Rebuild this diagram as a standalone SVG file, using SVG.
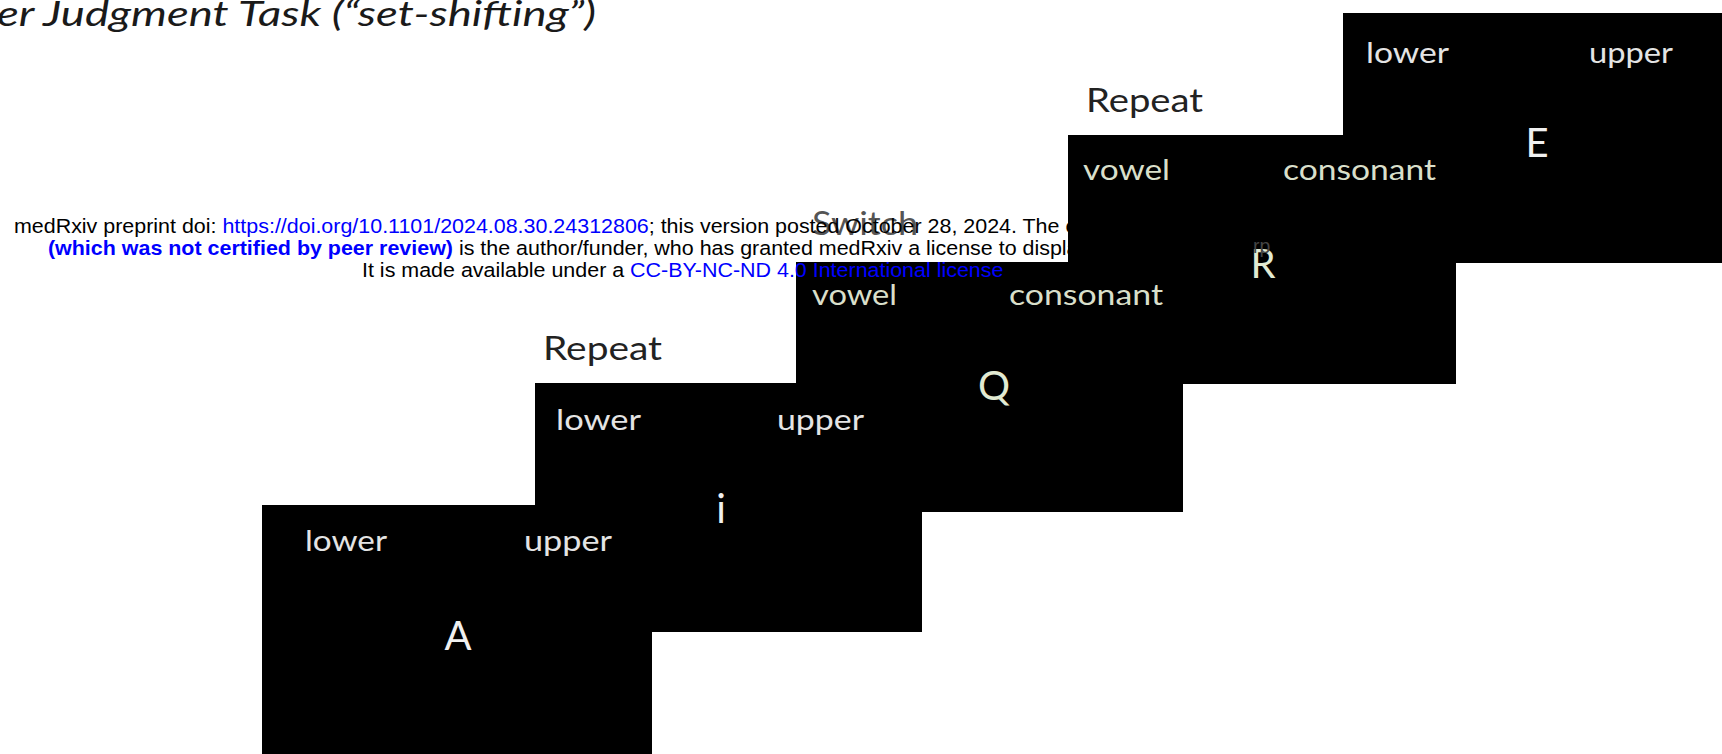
<svg xmlns="http://www.w3.org/2000/svg" width="1722" height="754" viewBox="0 0 1722 754">
<style>
.panel{fill:#000}
.lbl{font-family:Lato,"Liberation Sans",sans-serif;font-size:28px;fill:#e4e4e4}
.lblg{font-family:Lato,"Liberation Sans",sans-serif;font-size:28px;fill:#d9dfca}
.ltr{font-family:Lato,"Liberation Sans",sans-serif;font-size:40px;fill:#f0f0f0;text-anchor:middle}
.ltrg{font-family:Lato,"Liberation Sans",sans-serif;font-size:40px;fill:#e2ead2;text-anchor:middle}
.hdr{font-family:Lato,"Liberation Sans",sans-serif;font-size:32px;fill:#222}
.title{font-family:Lato,"Liberation Sans",sans-serif;font-size:34px;font-style:italic;fill:#1a1a1a}
.mx{font-family:"Liberation Sans",Arial,sans-serif;font-size:19.5px;fill:#000}
.blue{fill:#0000ff}
.b{font-weight:bold}
</style>
<rect x="0" y="0" width="1722" height="754" fill="#fff"/>
<g id="title">
<text class="title" x="-3" y="26" textLength="599" lengthAdjust="spacingAndGlyphs">er Judgment Task (“set-shifting”)</text>
</g>
<g id="connectors"></g>
<g id="switch-label">
<text class="hdr" x="812" y="235" textLength="106" lengthAdjust="spacingAndGlyphs" style="fill:#555">Switch</text>
</g>
<g id="notice-top" transform="matrix(1.1 0 0 1 0 0)">
<text class="mx" x="12.7" y="233">medRxiv preprint doi: <tspan class="blue">https://doi.org/10.1101/2024.08.30.24312806</tspan>; this version posted October 28, 2024. The co</text>
<text class="mx" x="43.6" y="255"><tspan class="blue b">(which was not certified by peer review)</tspan> is the author/funder, who has granted medRxiv a license to display</text>
</g>
<g id="panel5">
<rect class="panel" x="1343" y="13" width="400" height="250"/>
<text class="lbl" x="1366" y="63" textLength="83" lengthAdjust="spacingAndGlyphs">lower</text>
<text class="lbl" x="1589" y="63" textLength="84" lengthAdjust="spacingAndGlyphs">upper</text>
<text class="ltr" x="1537" y="157">E</text>
</g>
<g id="panel4">
<text class="hdr" x="1086" y="112" textLength="117" lengthAdjust="spacingAndGlyphs">Repeat</text>
<rect class="panel" x="1068" y="135" width="388" height="249"/>
<text class="lblg" x="1083" y="180" textLength="87" lengthAdjust="spacingAndGlyphs">vowel</text>
<text class="lblg" x="1283" y="180" textLength="153" lengthAdjust="spacingAndGlyphs">consonant</text>
<text class="ltrg" x="1263" y="278">R</text>
<text class="mx" x="1253" y="253" style="fill:#444">rp</text>
</g>
<g id="panel3">
<rect class="panel" x="796" y="262" width="387" height="250"/>
<text class="lblg" x="812" y="305" textLength="85" lengthAdjust="spacingAndGlyphs">vowel</text>
<text class="lblg" x="1009" y="305" textLength="154" lengthAdjust="spacingAndGlyphs">consonant</text>
<text class="ltrg" x="994" y="400">Q</text>
</g>
<g id="panel2">
<text class="hdr" x="543" y="360" textLength="119" lengthAdjust="spacingAndGlyphs">Repeat</text>
<rect class="panel" x="535" y="383" width="387" height="249"/>
<text class="lbl" x="556" y="430" textLength="85" lengthAdjust="spacingAndGlyphs">lower</text>
<text class="lbl" x="777" y="430" textLength="87" lengthAdjust="spacingAndGlyphs">upper</text>
<text class="ltr" x="721" y="523">i</text>
</g>
<g id="panel1">
<rect class="panel" x="262" y="505" width="390" height="260"/>
<text class="lbl" x="305" y="551" textLength="82" lengthAdjust="spacingAndGlyphs">lower</text>
<text class="lbl" x="524" y="551" textLength="88" lengthAdjust="spacingAndGlyphs">upper</text>
<text class="ltr" x="458" y="650">A</text>
</g>
<g id="notice-bottom" transform="matrix(1.1 0 0 1 0 0)">
<text class="mx" x="329.1" y="277">It is made available under a <tspan class="blue">CC-BY-NC-ND 4.0 International license</tspan></text>
</g>
</svg>
